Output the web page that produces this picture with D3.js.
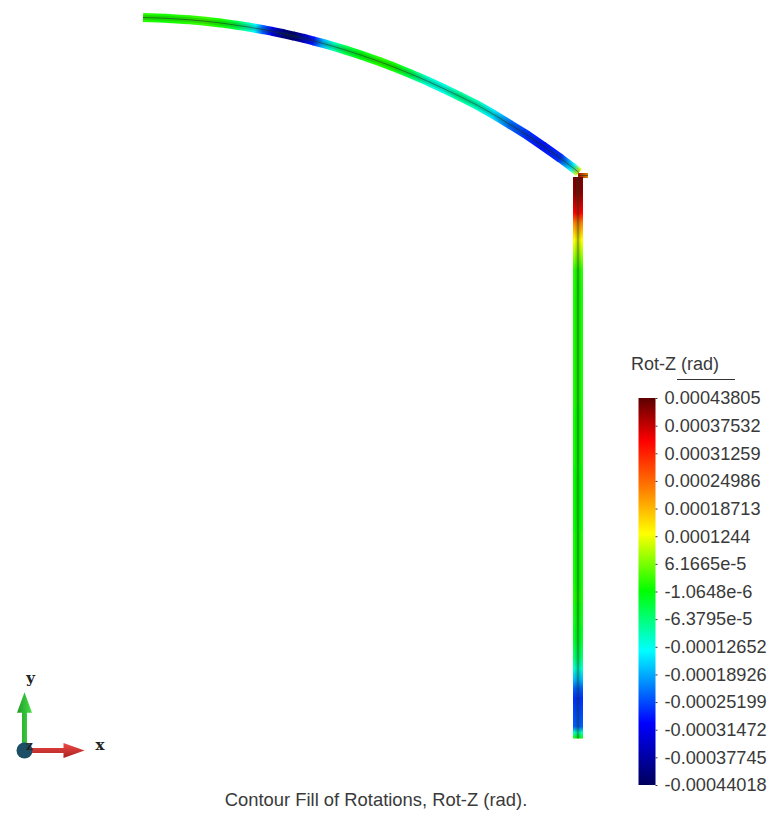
<!DOCTYPE html>
<html lang="en">
<head>
<meta charset="utf-8">
<title>Contour Fill of Rotations, Rot-Z (rad)</title>
<script src="https://d3js.org/d3.v7.min.js"></script>
<style>
  html, body { margin: 0; background: #fff; }
  text { font-family: "Liberation Sans", sans-serif; fill: #3a3a3a; }
  .triad text { font-family: "DejaVu Serif", serif; font-weight: bold; fill: #222; }
</style>
</head>
<body>
<script>
// Arch stations, model units, with nodal Rot-Z (rad)
var archX = [0, 2.2, 4.4, 6.2, 7.7, 9.2, 10.4, 11.2, 12, 12.9, 14, 15, 16, 17, 18, 19, 20.2, 21.7, 23.7, 25, 26.7, 28.4, 30, 31.7, 33.4, 35, 36.7, 38.4, 40, 41.7, 42.9, 43.6]
var archY = [72.1, 72.03, 71.89, 71.73, 71.56, 71.35, 71.17, 71.03, 70.89, 70.72, 70.49, 70.26, 70.03, 69.77, 69.51, 69.22, 68.86, 68.37, 67.67, 67.18, 66.49, 65.76, 65.02, 64.2, 63.35, 62.44, 61.4, 60.35, 59.25, 58.05, 57.15, 56.6]
var archRot = [0.00002, 0.00001, 0.00002, 0.00003, 0.00001, -0.00003, -0.00009, -0.00014, -0.00024, -0.00032, -0.00041, -0.00043, -0.00036, -0.00029, -0.00018, -0.0001, -0.00004, -0.00001, 0.00002, 0.00001, -0.00004, -0.00011, -0.00012, -0.00008, -0.0001, -0.00015, -0.00023, -0.00027, -0.00029, -0.00027, -0.00014, 0.00012]

// Mast stations, base to top
var mastY = [0, 0.6, 1.2, 4, 5, 5.9, 7, 8, 10, 14, 24, 34, 44, 46.85, 48.15, 49.85, 51.55, 52.55, 54.55, 56.15]
var mastRot = [0.00001, -0.0001, -0.00024, -0.00027, -0.00024, -0.00018, -0.00011, -0.00006, -0.00002, 0.00001, 0, 0.00001, 0.00001, 0.00002, 0.00007, 0.00013, 0.00023, 0.00034, 0.00041, 0.00042]

// Short stub at the joint
var stubX = [43.5, 44.5]
var stubY = [56.3, 56.3]
var stubRot = [0.00037, 0.00021]

var legendValues = [0.00043805, 0.00037532, 0.00031259, 0.00024986, 0.00018713, 0.0001244, 0.000061665, -0.0000010648, -0.000063795, -0.00012652, -0.00018926, -0.00025199, -0.00031472, -0.00037745, -0.00044018]
var legendLabels = ["0.00043805", "0.00037532", "0.00031259", "0.00024986", "0.00018713", "0.0001244", "6.1665e-5", "-1.0648e-6", "-6.3795e-5", "-0.00012652", "-0.00018926", "-0.00025199", "-0.00031472", "-0.00037745", "-0.00044018"]
var colorStops = [-0.00044018, -0.0003, -0.000135, 0, 0.00013, 0.00023, 0.00034, 0.00043805]
var colorRange = ["#00005c", "#0000ff", "#00ffff", "#00ff00", "#ffff00", "#ff8000", "#ff0000", "#5c0000"]

var width = 772
var height = 816

var svg = d3.select("body").append("svg")
    .attr("width", width)
    .attr("height", height)
    .style("display", "block")

var defs = svg.append("defs")
defs.append("filter").attr("id", "soft")
    .append("feGaussianBlur").attr("stdDeviation", 0.7)

var x = d3.scaleLinear().domain([0, 43.5]).range([143, 578])
var y = d3.scaleLinear().domain([0, 72.1]).range([738.5, 17.5])
var color = d3.scaleLinear().domain(colorStops).range(colorRange)

var beam = svg.append("g").attr("filter", "url(#soft)")
var gradId = 0

// one stroked segment per element, shaded between its two nodal values
function drawMember(xs, ys, rots, thick) {
    d3.range(xs.length - 1).forEach(function(i) {
        var id = "seg" + (gradId++)
        var x1 = x(xs[i]), y1 = y(ys[i]), x2 = x(xs[i + 1]), y2 = y(ys[i + 1])
        var len = Math.hypot(x2 - x1, y2 - y1)
        // run each piece slightly past its end node so no seam shows
        var over = i < xs.length - 2 ? 0.8 / len : 0
        var g = defs.append("linearGradient").attr("id", id)
            .attr("gradientUnits", "userSpaceOnUse")
            .attr("x1", x1).attr("y1", y1)
            .attr("x2", x2).attr("y2", y2)
        g.append("stop").attr("offset", 0).attr("stop-color", color(rots[i]))
        g.append("stop").attr("offset", 1).attr("stop-color", color(rots[i + 1]))
        beam.append("line")
            .attr("x1", x1).attr("y1", y1)
            .attr("x2", x2 + (x2 - x1) * over).attr("y2", y2 + (y2 - y1) * over)
            .attr("stroke", "url(#" + id + ")")
            .attr("stroke-width", thick)
    })
    var centre = d3.line().x(function(d) { return x(d[0]) }).y(function(d) { return y(d[1]) })(d3.zip(xs, ys))
    beam.append("path").attr("d", centre).attr("fill", "none")
        .attr("stroke", "#123018").attr("stroke-opacity", 0.18).attr("stroke-width", 5)
    beam.append("path").attr("d", centre).attr("fill", "none")
        .attr("stroke", "#123018").attr("stroke-opacity", 0.55).attr("stroke-width", 1)
}

var mastX = mastY.map(function() { return 43.5 })
drawMember(stubX, stubY, stubRot, 5)
drawMember(archX, archY, archRot, 9)
drawMember(mastX, mastY, mastRot, 10)

// Legend
var legendY = d3.scaleLinear()
    .domain([legendValues[legendValues.length - 1], legendValues[0]])
    .range([785, 398])
var legendGrad = defs.append("linearGradient").attr("id", "legendGrad")
    .attr("x1", 0).attr("x2", 0).attr("y1", 1).attr("y2", 0)
legendGrad.selectAll("stop")
    .data(colorStops)
    .enter().append("stop")
    .attr("offset", function(d) { return (d - colorStops[0]) / (colorStops[colorStops.length - 1] - colorStops[0]) })
    .attr("stop-color", function(d) { return color(d) })
svg.append("rect")
    .attr("x", 638.5).attr("width", 17)
    .attr("y", legendY(legendValues[0]))
    .attr("height", legendY(legendValues[legendValues.length - 1]) - legendY(legendValues[0]))
    .attr("fill", "url(#legendGrad)")

var axis = svg.append("g")
    .attr("transform", "translate(655.5,0)")
    .call(d3.axisRight(legendY)
        .tickValues(legendValues)
        .tickSize(2)
        .tickPadding(7)
        .tickFormat(function(d, i) { return legendLabels[i] }))
axis.select(".domain").remove()
axis.selectAll("line").attr("stroke", "#333")
axis.selectAll("text").attr("font-size", 18.2).style("font-family", "'Liberation Sans', sans-serif").attr("fill", "#3a3a3a")

svg.append("text").attr("x", 631).attr("y", 370).attr("font-size", 18).text("Rot-Z (rad)")
svg.append("line").attr("x1", 677).attr("x2", 735).attr("y1", 379.5).attr("y2", 379.5)
    .attr("stroke", "#333").attr("stroke-width", 1)

svg.append("text")
    .attr("x", 376).attr("y", 806)
    .attr("text-anchor", "middle")
    .attr("font-size", 18.4)
    .text("Contour Fill of Rotations, Rot-Z (rad).")

// Axis triad
var triad = svg.append("g").attr("class", "triad").attr("transform", "translate(24.5,750.5)")
var arrowShape = d3.line()([[0, -2.5], [39, -2.5], [39, -7.5], [60, 0], [39, 7.5], [39, 2.5], [0, 2.5]]) + "Z"

var redGrad = defs.append("linearGradient").attr("id", "redShade").attr("x1", 0).attr("x2", 0).attr("y1", 0).attr("y2", 1)
redGrad.append("stop").attr("offset", 0).attr("stop-color", "#f04a45")
redGrad.append("stop").attr("offset", 1).attr("stop-color", "#a82220")
var greenGrad = defs.append("linearGradient").attr("id", "greenShade").attr("x1", 0).attr("x2", 0).attr("y1", 0).attr("y2", 1)
greenGrad.append("stop").attr("offset", 0).attr("stop-color", "#1f9a26")
greenGrad.append("stop").attr("offset", 1).attr("stop-color", "#45e04a")

var triadShapes = triad.append("g").attr("filter", "url(#soft)")
triadShapes.append("path").attr("d", arrowShape).attr("fill", "url(#redShade)")
triadShapes.append("path").attr("d", arrowShape).attr("fill", "url(#greenShade)").attr("transform", "rotate(-90) scale(0.97,1)")
triadShapes.append("circle").attr("r", 8).attr("fill", "#1d4f66")

triad.append("text").attr("x", 6).attr("y", -68).attr("text-anchor", "middle").attr("font-size", 15).text("y")
triad.append("text").attr("x", 75.5).attr("y", -0.5).attr("text-anchor", "middle").attr("font-size", 15).text("x")
triad.append("text").attr("x", 5).attr("y", -0.5).attr("text-anchor", "middle").attr("font-size", 12).text("z")
</script>
</body>
</html>
